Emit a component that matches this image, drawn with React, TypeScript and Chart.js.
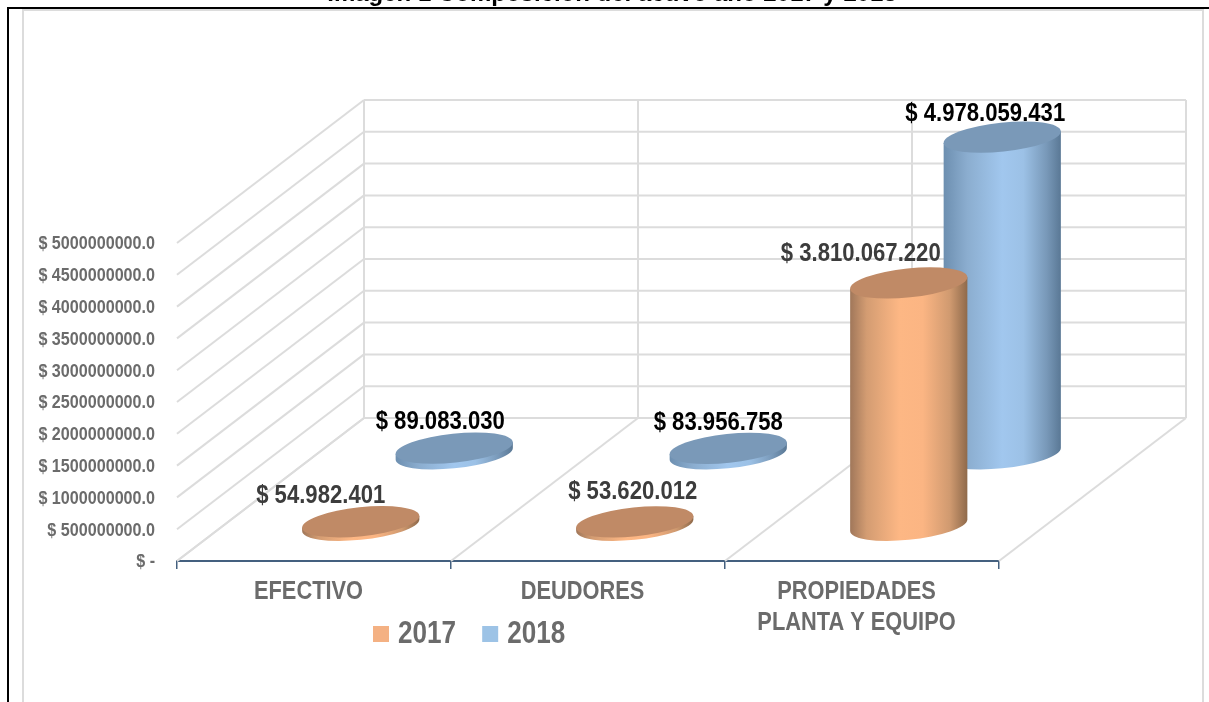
import React, { useEffect, useRef } from "react";
import { Chart, registerables } from "chart.js";

Chart.register(...registerables);

const categories: (string | string[])[] = ["EFECTIVO", "DEUDORES", ["PROPIEDADES", "PLANTA Y EQUIPO"]];
const values2017 = [54982401, 53620012, 3810067220];
const values2018 = [89083030, 83956758, 4978059431];
const seriesNames = ["2017", "2018"];
const titleText = "Imagen 1 Composición del activo año 2017 y 2018";

const W = 1209;
const H = 702;
const DX = 187;
const DY = 143;
const FONT = '"Liberation Sans", sans-serif';
const depthFraction = [0.25, 0.75];
const labelColors = ["#3c3c3c", "#000000"];
const labelShift = [
  [[-40, -26], [-2, -30], [-48, -29]],
  [[-14, -26], [-10, -25], [-17, -23]],
];
const topColors = ["#c08a66", "#7a99b8"];
const sideStops = [
  [[0, "#a0775a"], [0.14, "#d39c72"], [0.42, "#fdb784"], [0.62, "#fbb583"], [0.85, "#d09a70"], [1, "#8f6a4b"]],
  [[0, "#6d8fb0"], [0.2, "#8badcf"], [0.5, "#a1c7ee"], [0.68, "#9cc1e6"], [0.88, "#7898b8"], [1, "#5a7895"]],
];
// The reference text is a condensed face: horizontal squeeze per font size.
const squeeze: Record<string, number> = { "18": 0.896, "25": 0.885, "25.5": 0.855, "32": 0.815 };

function money(v: number) {
  return "$ " + String(v).replace(/\B(?=(\d{3})+(?!\d))/g, ".");
}

function drawCylinder(ctx: CanvasRenderingContext2D, cx: number, topY: number, baseY: number, a: number, di: number) {
  const b = a * 0.246;
  const th = (-6 * Math.PI) / 180;
  const t0 = Math.atan2(-b * Math.sin(th), a * Math.cos(th));
  const ex = a * Math.cos(t0) * Math.cos(th) - b * Math.sin(t0) * Math.sin(th);
  const ey = a * Math.cos(t0) * Math.sin(th) + b * Math.sin(t0) * Math.cos(th);
  const grad = ctx.createLinearGradient(cx - ex, 0, cx + ex, 0);
  sideStops[di].forEach((s: any) => grad.addColorStop(s[0], s[1]));
  ctx.beginPath();
  ctx.moveTo(cx + ex, topY + ey);
  ctx.lineTo(cx + ex, baseY + ey);
  ctx.ellipse(cx, baseY, a, b, th, t0, t0 + Math.PI, false);
  ctx.lineTo(cx - ex, topY - ey);
  ctx.closePath();
  ctx.fillStyle = grad;
  ctx.fill();
  ctx.beginPath();
  ctx.ellipse(cx, topY, a, b, th, 0, Math.PI * 2);
  ctx.fillStyle = topColors[di];
  ctx.fill();
}

const scenePlugin: any = {
  id: "scene",
  beforeDraw(chart: any) {
    const { ctx } = chart;
    const original = CanvasRenderingContext2D.prototype.fillText;
    ctx.fillText = function (text: string, x: number, y: number, maxWidth?: number) {
      const m = /([\d.]+)px/.exec(ctx.font);
      const sx = (m && squeeze[m[1]]) || 1;
      ctx.save();
      ctx.translate(x, y);
      ctx.scale(sx, 1);
      if (maxWidth === undefined) original.call(ctx, text, 0, 0);
      else original.call(ctx, text, 0, 0, maxWidth / sx);
      ctx.restore();
    };
    ctx.save();
    ctx.fillStyle = "#ffffff";
    ctx.fillRect(0, 0, W, H);
    ctx.fillStyle = "#dcdcdc";
    ctx.fillRect(22, 9, 2, H - 9);
    ctx.fillRect(22, 9, 1182, 2);
    ctx.fillRect(1202, 9, 2, H - 9);
    ctx.fillStyle = "#000000";
    ctx.fillRect(7, 7, 2, H - 7);
    ctx.fillRect(7, 7, W - 7, 2);
    ctx.restore();
  },
  afterDraw(chart: any) {
    delete chart.ctx.fillText;
  },
  afterLayout(chart: any) {
    const t = chart.titleBlock;
    t.left = 15;
    t.right = W;
    t.width = W - 15;
    t.top = -20;
    const l = chart.legend;
    l.left = 360;
    l.right = W;
    l.top = 598;
    l.bottom = H;
  },
  beforeDatasetsDraw(chart: any) {
    const { ctx, scales } = chart;
    const { x, y } = scales;
    ctx.save();
    ctx.strokeStyle = "#dcdcdc";
    ctx.lineWidth = 2;
    const line = (x1: number, y1: number, x2: number, y2: number) => {
      ctx.beginPath();
      ctx.moveTo(x1, y1);
      ctx.lineTo(x2, y2);
      ctx.stroke();
    };
    const left = x.left;
    const right = x.right;
    y.ticks.forEach((tick: any) => {
      const py = y.getPixelForValue(tick.value);
      line(left, py, left + DX, py - DY);
      line(left + DX, py - DY, right + DX, py - DY);
    });
    const step = (right - left) / categories.length;
    for (let i = 0; i <= categories.length; i++) {
      const bx = left + i * step;
      line(bx, y.bottom, bx + DX, y.bottom - DY);
      line(bx + DX, y.bottom - DY, bx + DX, y.top - DY);
    }
    ctx.restore();
  },
  beforeDatasetDraw(chart: any, args: any) {
    const { ctx } = chart;
    const di = args.index;
    const meta = chart.getDatasetMeta(di);
    const f = depthFraction[di];
    ctx.save();
    meta.data.forEach((bar: any) => {
      drawCylinder(ctx, bar.x + DX * f, bar.y - DY * f, bar.base - DY * f, bar.width / 2, di);
    });
    ctx.restore();
    return false;
  },
  afterDatasetsDraw(chart: any) {
    const { ctx } = chart;
    ctx.save();
    ctx.font = `bold 25px ${FONT}`;
    ctx.textAlign = "center";
    ctx.textBaseline = "middle";
    chart.data.datasets.forEach((ds: any, di: number) => {
      const meta = chart.getDatasetMeta(di);
      const f = depthFraction[di];
      meta.data.forEach((bar: any, i: number) => {
        ctx.fillStyle = labelColors[di];
        ctx.fillText(money(ds.data[i]), bar.x + DX * f + labelShift[di][i][0], bar.y - DY * f + labelShift[di][i][1]);
      });
    });
    ctx.restore();
  },
};

export default function App() {
  const ref = useRef<HTMLCanvasElement | null>(null);
  useEffect(() => {
    document.body.style.margin = "0";
    const chart = new Chart(ref.current as HTMLCanvasElement, {
      type: "bar",
      data: {
        labels: categories as any,
        datasets: [
          { label: seriesNames[0], data: values2017, backgroundColor: "#f4b183", borderColor: "#f4b183", borderWidth: 14 },
          { label: seriesNames[1], data: values2018, backgroundColor: "#9dc3e6", borderColor: "#9dc3e6", borderWidth: 14 },
        ],
      },
      plugins: [scenePlugin],
      options: {
        responsive: false,
        animation: false,
        layout: { padding: { left: 0, right: W - 999, top: 0, bottom: 0 } },
        datasets: { bar: { grouped: false, barPercentage: 0.43, categoryPercentage: 1 } },
        plugins: {
          title: {
            display: true,
            text: titleText,
            color: "#000000",
            font: { family: FONT, size: 24, weight: "bold", lineHeight: 1.2 },
            padding: { top: 0, bottom: 243 - 28.8 },
          },
          legend: {
            display: true,
            position: "bottom",
            align: "start",
            maxHeight: 20,
            labels: {
              boxWidth: 2,
              boxHeight: 2,
              padding: 20,
              color: "#6b6b6b",
              font: { family: FONT, size: 32, weight: "bold" },
            },
          },
          tooltip: { enabled: false },
        },
        scales: {
          x: {
            afterFit: (s: any) => { s.height = H - 561 - 20; },
            border: { color: "#44607f", width: 2 },
            grid: { display: true, drawOnChartArea: false, drawTicks: true, tickLength: 8, color: "#44607f", lineWidth: 1.5 },
            ticks: {
              autoSkip: false,
              maxRotation: 0,
              minRotation: 0,
              padding: 7,
              labelOffset: -5.5,
              color: "#6b6b6b",
              font: { family: FONT, size: 25.5, weight: "bold", lineHeight: 1.22 },
            },
          },
          y: {
            min: 0,
            max: 5000000000,
            afterFit: (s: any) => { s.width = 177; },
            border: { display: false },
            grid: { display: false, drawTicks: false },
            ticks: {
              stepSize: 500000000,
              padding: 22,
              labelOffset: 1.5,
              color: "#6b6b6b",
              font: { family: FONT, size: 18, weight: "bold" },
              callback: (v: any) => (v === 0 ? "$ -" : `$ ${v}.0`),
            },
          },
        },
      } as any,
    });
    return () => chart.destroy();
  }, []);
  return <canvas ref={ref} width={W} height={H} style={{ display: "block", width: W, height: H }} />;
}
